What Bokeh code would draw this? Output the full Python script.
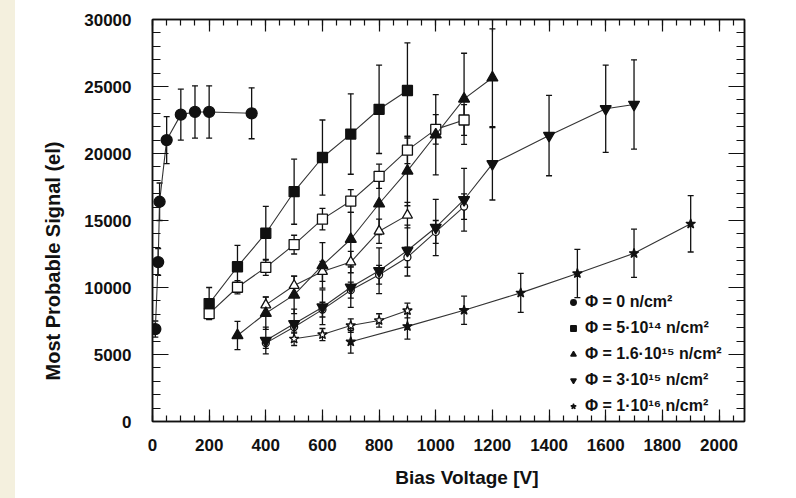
from bokeh.plotting import figure
from bokeh.models import (ColumnDataSource, Whisker, TeeHead, LinearAxis, Legend, LegendItem,
                          Range1d, FixedTicker, Div, Title, CustomJSTickFormatter)
from bokeh.layouts import row
from bokeh.embed import file_html
from bokeh.resources import INLINE

# ---------------- data ----------------
v_phi0 = [10, 20, 25, 50, 100, 150, 200, 350]
s_phi0 = [6900, 11900, 16400, 21000, 22900, 23100, 23100, 23000]
e_phi0 = [600, 1000, 1400, 1750, 1900, 1950, 1950, 1900]

v_5e14 = [200, 300, 400, 500, 600, 700, 800, 900]
s_5e14 = [8800, 11550, 14050, 17150, 19700, 21450, 23300, 24700]
e_5e14 = [1200, 1600, 2000, 2430, 2800, 3000, 3300, 3550]

v_5e14_open = [200, 300, 400, 500, 600, 700, 800, 900, 1000, 1100]
s_5e14_open = [8050, 10020, 11500, 13200, 15100, 16450, 18300, 20250, 21800, 22500]
e_5e14_open = [400, 500, 600, 700, 800, 850, 900, 1000, 1100, 1150]

v_16e15 = [300, 400, 500, 600, 700, 800, 900, 1000, 1100, 1200]
s_16e15 = [6420, 8080, 9450, 11650, 13600, 16250, 18700, 21400, 24080, 25650]
e_16e15 = [1050, 1200, 1400, 1700, 2000, 2300, 2600, 3000, 3400, 3650]

v_16e15_open = [400, 500, 600, 700, 800, 900]
s_16e15_open = [8700, 10150, 11200, 11900, 14200, 15400]
e_16e15_open = [600, 700, 750, 800, 900, 950]

v_3e15 = [400, 500, 600, 700, 800, 900, 1000, 1100, 1200, 1400, 1600, 1700]
s_3e15 = [6040, 7290, 8530, 10020, 11250, 12760, 14480, 16550, 19230, 21340, 23340, 23660]
e_3e15 = [1000, 1100, 1300, 1500, 1700, 1900, 2100, 2340, 2700, 3000, 3260, 3330]

v_3e15_open = [400, 500, 600, 700, 800, 900, 1000, 1100]
s_3e15_open = [5850, 7050, 8350, 9800, 10950, 12260, 14150, 16040]
e_3e15_open = [400, 450, 550, 600, 700, 750, 850, 950]

v_1e16 = [700, 900, 1100, 1300, 1500, 1700, 1900]
s_1e16 = [5950, 7100, 8300, 9600, 11050, 12550, 14750]
e_1e16 = [850, 950, 1050, 1450, 1800, 1800, 2100]

v_1e16_open = [500, 600, 700, 800, 900]
s_1e16_open = [6170, 6490, 7160, 7540, 8280]
e_1e16_open = [500, 450, 500, 500, 550]

legend_labels = ["Φ = 0 n/cm²", "Φ = 5·10¹⁴ n/cm²", "Φ = 1.6·10¹⁵ n/cm²",
                 "Φ = 3·10¹⁵ n/cm²", "Φ = 1·10¹⁶ n/cm²"]

x_major = [0, 200, 400, 600, 800, 1000, 1200, 1400, 1600, 1800, 2000]
x_minor = list(range(0, 2100, 50))
y_major = [0, 5000, 10000, 15000, 20000, 25000, 30000]
y_minor = list(range(0, 30001, 1000))

x_title = "Bias Voltage [V]"
y_title = "Most Probable Signal (el)"

# ---------------- figure ----------------
FONT = "Liberation Sans"
INK = "#111111"

p = figure(width=781, height=498, output_backend="svg", toolbar_location=None,
           x_range=Range1d(0, 2090), y_range=Range1d(0, 30000),
           min_border_left=137, min_border_right=52, min_border_top=19, min_border_bottom=77,
           background_fill_color="white", border_fill_color="white")
p.xgrid.visible = False
p.ygrid.visible = False
p.outline_line_color = INK
p.outline_line_width = 1.5


def style_axis(ax, ticker, major_in, minor_in, labels=True):
    ax.ticker = ticker
    ax.major_tick_in = major_in
    ax.major_tick_out = 0
    ax.minor_tick_in = minor_in
    ax.minor_tick_out = 0
    ax.axis_line_color = INK
    ax.axis_line_width = 1.5
    ax.major_tick_line_color = INK
    ax.major_tick_line_width = 1.2
    ax.minor_tick_line_color = INK
    ax.minor_tick_line_width = 1.2
    if labels:
        ax.major_label_text_font = FONT
        ax.major_label_text_font_style = "bold"
        ax.major_label_text_font_size = "17px"
        ax.major_label_text_color = INK
    else:
        ax.formatter = CustomJSTickFormatter(code="return ''")
        ax.major_label_standoff = 0


xt = FixedTicker(ticks=x_major, minor_ticks=x_minor)
yt = FixedTicker(ticks=y_major, minor_ticks=y_minor)

style_axis(p.xaxis[0], xt, 12, 6)
p.xaxis[0].major_label_standoff = 17
style_axis(p.yaxis[0], yt, 16, 8)
p.yaxis[0].major_label_standoff = 21

top_ax = LinearAxis()
style_axis(top_ax, FixedTicker(ticks=x_major, minor_ticks=x_minor), 12, 6, labels=False)
p.add_layout(top_ax, "above")
right_ax = LinearAxis()
style_axis(right_ax, FixedTicker(ticks=y_major, minor_ticks=y_minor), 16, 8, labels=False)
p.add_layout(right_ax, "right")


def series(v, s, e, marker, size, filled, line=True):
    src = ColumnDataSource(dict(x=v, y=s, up=[a + b for a, b in zip(s, e)],
                                lo=[a - b for a, b in zip(s, e)]))
    if line:
        p.line("x", "y", source=src, line_color="#333333", line_width=1.1)
    w = Whisker(base="x", upper="up", lower="lo", source=src, line_color=INK, line_width=1.3,
                upper_head=TeeHead(size=6, line_color=INK, line_width=1.3),
                lower_head=TeeHead(size=6, line_color=INK, line_width=1.3))
    p.add_layout(w)
    r = p.scatter("x", "y", source=src, marker=marker, size=size,
                  fill_color=INK if filled else "white", line_color=INK, line_width=1.3)
    return r


r_open_sq = series(v_5e14_open, s_5e14_open, e_5e14_open, "square", 10, False)
r_open_tri = series(v_16e15_open, s_16e15_open, e_16e15_open, "triangle", 10, False)
r_open_circ = series(v_3e15_open, s_3e15_open, e_3e15_open, "circle", 7, False)
r_open_star = series(v_1e16_open, s_1e16_open, e_1e16_open, "star", 10, False)

r0 = series(v_phi0, s_phi0, e_phi0, "circle", 11, True)
r1 = series(v_5e14, s_5e14, e_5e14, "square", 10, True)
r2 = series(v_16e15, s_16e15, e_16e15, "triangle", 11, True)
r3 = series(v_3e15, s_3e15, e_3e15, "inverted_triangle", 11, True)
r4 = series(v_1e16, s_1e16, e_1e16, "star", 10, True)

legend = Legend(items=[LegendItem(label=lab, renderers=[r]) for lab, r in
                       zip(legend_labels, [r0, r1, r2, r3, r4])],
                location=(414, 6), orientation="vertical",
                border_line_alpha=0, background_fill_alpha=0,
                label_text_font=FONT, label_text_font_style="bold",
                label_text_font_size="16px", label_text_color=INK,
                glyph_width=14, glyph_height=14, label_standoff=5,
                spacing=8, padding=0, margin=0, label_height=18)
p.add_layout(legend, "center")

p.add_layout(Title(text=x_title, align="right", offset=206, standoff=22,
                   vertical_align="bottom",
                   text_font=FONT, text_font_style="bold", text_font_size="19px",
                   text_color=INK), "below")
p.add_layout(Title(text=y_title, align="left", offset=41, standoff=35,
                   text_font=FONT, text_font_style="bold", text_font_size="20px",
                   text_color=INK), "left")

strip = Div(width=15, height=498, margin=0, styles={"background-color": "#f4f0de"})
layout = row(strip, p, spacing=0)

open("out.html", "w").write(file_html(layout, INLINE))
